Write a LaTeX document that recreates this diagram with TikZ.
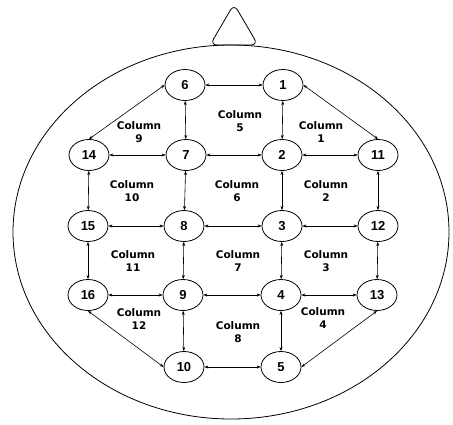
\documentclass[tikz,border=0pt]{standalone}
\usepackage{fontspec}
\setmainfont{Liberation Sans}
\newfontfamily\collabelfont{DejaVu Sans}
\usetikzlibrary{shapes.geometric,arrows.meta}

\newcommand*{\picw}{453}
\newcommand*{\pich}{424}

\begin{document}
\begin{tikzpicture}
[
	x=1pt, y=-1pt,
	cell/.style={ellipse,draw,line width=0.8pt,minimum width=40pt,minimum height=31pt,inner sep=0pt,font=\fontsize{13}{15}\selectfont\bfseries},
	collabel/.style={align=center,inner sep=0pt,font=\collabelfont\fontsize{10.5}{13}\selectfont\bfseries},
	link/.style={{Stealth[length=4pt,width=3pt]}-{Stealth[length=4pt,width=3pt]},line width=0.6pt}
]

	\useasboundingbox (0,0) rectangle (\picw,\pich);

	% outline of the head
	\draw[line width=0.8pt] (231,232) ellipse [x radius=218, y radius=187];
	\draw[line width=0.8pt,rounded corners=7pt] (210,45) -- (234,4) -- (258,45) -- cycle;

	% cells
	\node[cell] (n6) at (185,85) {6};
	\node[cell] (n1) at (283,85) {1};
	%
	\node[cell] (n14) at (89,155) {14};
	\node[cell] (n7) at (186,155) {7};
	\node[cell] (n2) at (282,155) {2};
	\node[cell] (n11) at (378,155) {11};
	%
	\node[cell] (n15) at (88,226) {15};
	\node[cell] (n8) at (184,226) {8};
	\node[cell] (n3) at (282,226) {3};
	\node[cell] (n12) at (378,226) {12};
	%
	\node[cell] (n16) at (88,295) {16};
	\node[cell] (n9) at (183,295) {9};
	\node[cell] (n4) at (281,295) {4};
	\node[cell] (n13) at (377,295) {13};
	%
	\node[cell] (n10) at (184,367) {10};
	\node[cell] (n5) at (281,367) {5};

	% column labels
	\node[collabel] (c5) at (240,121) {Column\\5};
	\node[collabel] (c9) at (139,132) {Column\\9};
	\node[collabel] (c1) at (321,132) {Column\\1};
	\node[collabel] (c10) at (132,191) {Column\\10};
	\node[collabel] (c6) at (237,191) {Column\\6};
	\node[collabel] (c2) at (326,191) {Column\\2};
	\node[collabel] (c11) at (133,261) {Column\\11};
	\node[collabel] (c7) at (238,261) {Column\\7};
	\node[collabel] (c3) at (326,261) {Column\\3};
	\node[collabel] (c12) at (139,319) {Column\\12};
	\node[collabel] (c8) at (238,332) {Column\\8};
	\node[collabel] (c4) at (323,318) {Column\\4};

	% horizontal links
	\draw[link] (n6) -- (n1);
	\draw[link] (n14) -- (n7);
	\draw[link] (n7) -- (n2);
	\draw[link] (n2) -- (n11);
	\draw[link] (n15) -- (n8);
	\draw[link] (n8) -- (n3);
	\draw[link] (n3) -- (n12);
	\draw[link] (n16) -- (n9);
	\draw[link] (n9) -- (n4);
	\draw[link] (n4) -- (n13);
	\draw[link] (n10) -- (n5);

	% vertical links
	\draw[link] (n6) -- (n7);
	\draw[link] (n1) -- (n2);
	\draw[link] (n14) -- (n15);
	\draw[link] (n7) -- (n8);
	\draw[link] (n2) -- (n3);
	\draw[link] (n11) -- (n12);
	\draw[link] (n15) -- (n16);
	\draw[link] (n8) -- (n9);
	\draw[link] (n3) -- (n4);
	\draw[link] (n12) -- (n13);
	\draw[link] (n9) -- (n10);
	\draw[link] (n4) -- (n5);

	% diagonal links
	\draw[link] (n6.west) -- (n14.north);
	\draw[link] (n1.east) -- (n11.north);
	\draw[link] (n16.south) -- (n10.west);
	\draw[link] (n13.south) -- (n5.east);

\end{tikzpicture}
\end{document}
